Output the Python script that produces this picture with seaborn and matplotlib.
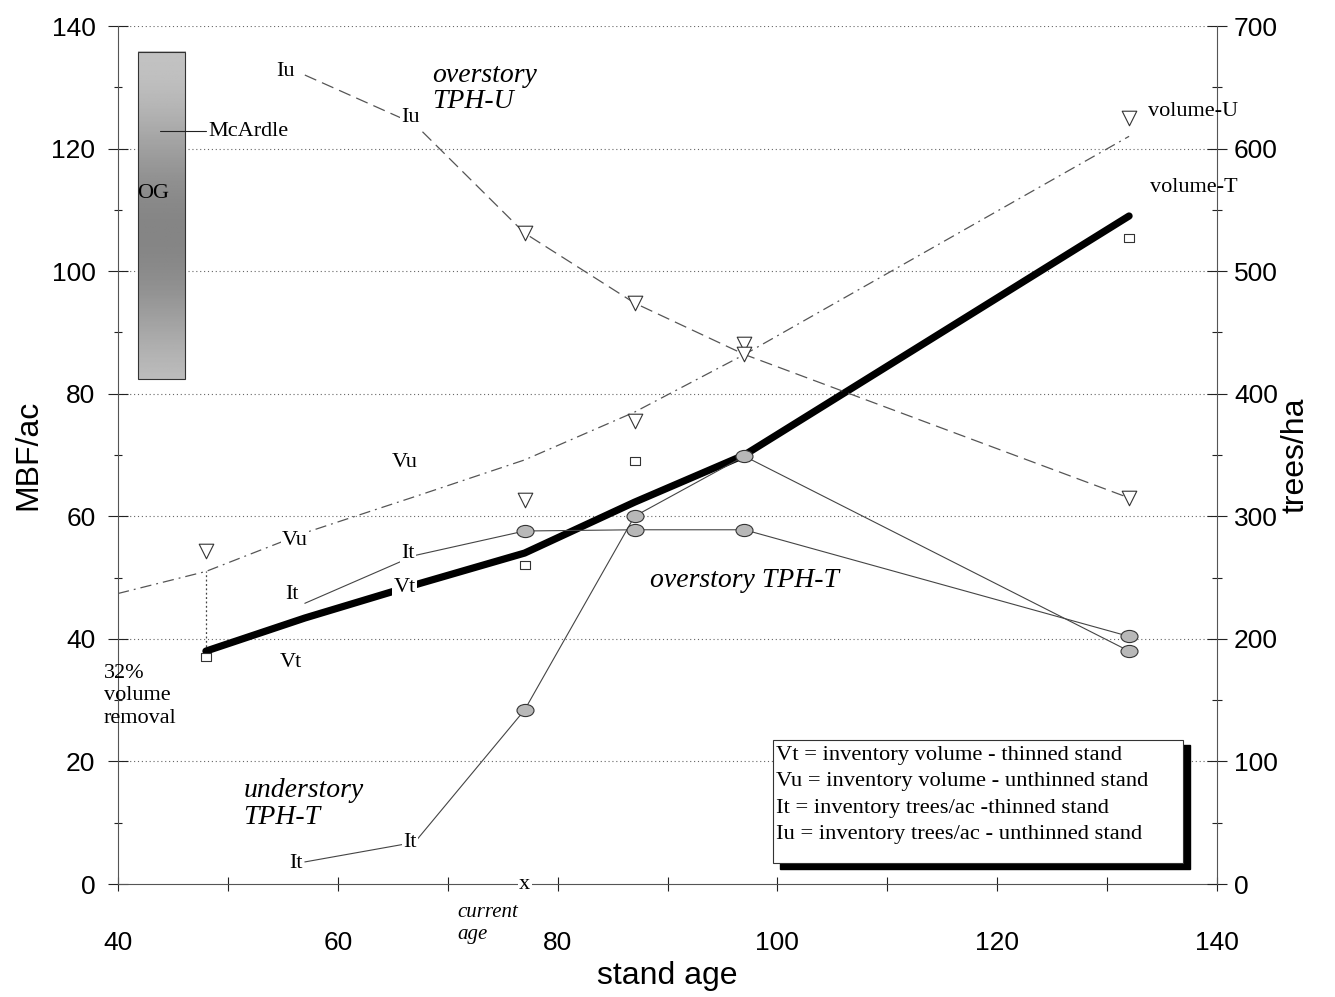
import numpy as np
import matplotlib
matplotlib.use("Agg")
import matplotlib.pyplot as plt
import seaborn as sns
from matplotlib.path import Path
from matplotlib.patches import Rectangle

# ---- stand volume (MBF/ac) ----
vu_age = [40, 48, 57, 67, 77, 87, 97, 132]
vu_mbf = [47.4, 51.0, 57.3, 63.2, 69.2, 77.0, 86.4, 122.0]
vt_age = [48, 57, 67, 77, 87, 97, 132]
vt_mbf = [38.0, 43.4, 48.8, 54.0, 62.3, 70.0, 109.0]

# inventory plot volumes
vu_inv_age = [48, 77, 87, 97, 132]
vu_inv = [54.4, 62.7, 75.6, 88.1, 125.0]
vt_inv_age = [48, 77, 87, 132]
vt_inv = [37.1, 52.1, 69.0, 105.4]

# ---- trees per hectare ----
tph_age = [57, 67, 77, 87, 97, 132]
iu_tph = [660, 620, 531, 474, 432, 315]
it_over_tph = [229, 268, 288, 289, 289, 202]
it_under_tph = [18, 34, 142, 300, 349, 190]
inv_age = [77, 87, 97, 132]

# reference values
og_range = (82.4, 135.8)
og_age = (41.8, 46.1)
mcardle = 122.8
removal_age = 48
current_age = 77

x_ticks = [40, 60, 80, 100, 120, 140]
left_ticks = [0, 20, 40, 60, 80, 100, 120, 140]
right_ticks = [0, 100, 200, 300, 400, 500, 600, 700]
legend_lines = [
    "Vt = inventory volume - thinned stand",
    "Vu = inventory volume - unthinned stand",
    "It = inventory trees/ac -thinned stand",
    "Iu = inventory trees/ac - unthinned stand",
]

sns.set_theme(style="white")
plt.rcParams["font.family"] = ["Liberation Sans", "DejaVu Sans"]
plt.rcParams["text.color"] = "black"
plt.rcParams["axes.labelcolor"] = "black"
plt.rcParams["xtick.color"] = "black"
plt.rcParams["ytick.color"] = "black"
SERIF = ["Liberation Serif", "DejaVu Serif"]

fig = plt.figure(figsize=(13.35, 9.97), dpi=100)
ax = fig.add_axes([118 / 1335, 113 / 997, 1099 / 1335, 858 / 997])
ax2 = ax.twinx()

# old-growth volume range bar
grad = np.linspace(0, 1, 200).reshape(-1, 1)
shade = 0.76 - 0.24 * np.sin(grad * np.pi * 0.9) ** 2
ax.imshow(shade, extent=[og_age[0], og_age[1], og_range[0], og_range[1]],
          cmap="gray", vmin=0, vmax=1, aspect="auto", origin="upper", zorder=1)
ax.add_patch(Rectangle((og_age[0], og_range[0]), og_age[1] - og_age[0],
                       og_range[1] - og_range[0], fill=False, ec="#333", lw=0.8, zorder=2))
ax.plot([og_age[0] + 2.0, og_age[1] + 1.9], [mcardle, mcardle], color="#222", lw=0.8, zorder=2)

# volume curves
sns.lineplot(x=vu_age, y=vu_mbf, ax=ax, color="#555", linewidth=0.9,
             linestyle=(0, (9, 4, 1.5, 4)), zorder=3)
sns.lineplot(x=vt_age, y=vt_mbf, ax=ax, color="black", linewidth=5.2,
             solid_capstyle="round", zorder=4)
ax.vlines(removal_age, vt_mbf[0], vu_mbf[1], color="#444", lw=0.9,
          linestyles=(0, (1.5, 2)), zorder=3)

# inventory volume points
sq = Path(np.array([[-1.3, -1], [1.3, -1], [1.3, 1], [-1.3, 1], [-1.3, -1]]),
          [Path.MOVETO, Path.LINETO, Path.LINETO, Path.LINETO, Path.CLOSEPOLY])
sns.scatterplot(x=vu_inv_age, y=vu_inv, ax=ax, marker="v", s=110,
                facecolor="white", edgecolor="#333", linewidth=0.8, zorder=5)
sns.scatterplot(x=vt_inv_age, y=vt_inv, ax=ax, marker=sq, s=60,
                facecolor="white", edgecolor="#333", linewidth=0.8, zorder=5)

# trees per hectare
sns.lineplot(x=tph_age, y=iu_tph, ax=ax2, color="#555", linewidth=0.9,
             linestyle=(0, (10, 5)), zorder=3)
sns.lineplot(x=tph_age, y=it_over_tph, ax=ax2, color="#444", linewidth=0.8, zorder=3)
sns.lineplot(x=tph_age, y=it_under_tph, ax=ax2, color="#444", linewidth=0.8, zorder=3)

circ = Path.unit_circle()
ell = Path(circ.vertices * np.array([1.4, 1.0]), circ.codes)
sns.scatterplot(x=inv_age, y=iu_tph[2:], ax=ax2, marker="v", s=110,
                facecolor="white", edgecolor="#333", linewidth=0.8, zorder=5)
for series in (it_over_tph, it_under_tph):
    sns.scatterplot(x=inv_age, y=series[2:], ax=ax2, marker=ell, s=150,
                    facecolor="#b8b8b8", edgecolor="#333", linewidth=0.8, zorder=5)

ax.set_xlim(40, 140)
ax.set_ylim(0, 140)
ax2.set_ylim(0, 700)

# axes styling
ax.grid(False)
ax2.grid(False)
for y in left_ticks[1:]:
    ax.axhline(y, color="#666", lw=0.8, linestyle=(0, (1, 2.5)), zorder=0.5)
for s in ("top", "right"):
    ax.spines[s].set_visible(False)
for s in ("top", "left", "bottom"):
    ax2.spines[s].set_visible(False)
for s in ("left", "bottom"):
    ax.spines[s].set_color("#555")
    ax.spines[s].set_linewidth(0.8)
ax2.spines["right"].set_color("#555")
ax2.spines["right"].set_linewidth(0.8)

ax.set_xticks(x_ticks)
ax.set_xticks([50, 70, 90, 110, 130], minor=True)
ax.set_yticks(left_ticks)
ax.set_yticks(list(range(10, 140, 20)), minor=True)
ax2.set_yticks(right_ticks)
ax2.set_yticks(list(range(50, 700, 100)), minor=True)

ax.tick_params(axis="x", which="both", direction="inout", length=10, width=0.8,
               color="#222", labelsize=19, pad=29, bottom=True, labelcolor="black")
ax.tick_params(axis="y", which="major", direction="inout", length=14.5, width=0.8,
               color="#222", labelsize=19, pad=9, left=True, labelcolor="black")
ax.tick_params(axis="y", which="minor", direction="inout", length=6, width=0.8,
               color="#222", left=True)
ax2.tick_params(axis="y", which="major", direction="inout", length=14.5, width=0.8,
                color="#222", labelsize=19, pad=5, right=True, labelcolor="black")
ax2.tick_params(axis="y", which="minor", direction="inout", length=7, width=0.8,
                color="#222", right=True)

ax.set_xlabel("stand age", fontsize=23, labelpad=4, color="black")
ax.set_ylabel("MBF/ac", fontsize=23, labelpad=6, color="black")
ax2.set_ylabel("trees/ha", fontsize=23, labelpad=2, color="black")


def note(x, y, s, size=16, mask=False, **kw):
    bbox = dict(facecolor="white", edgecolor="none", pad=1.0) if mask else None
    ax2.text(x, y, s, transform=ax.transData, family=SERIF, fontsize=size,
             color="black", zorder=8, bbox=bbox, clip_on=False, **kw)


note(55.2, 132.5, "Iu", ha="center", va="center")
note(66.6, 125.0, "Iu", ha="center", va="center", mask=True)
note(68.6, 129.8, "overstory\nTPH-U", size=20, style="italic", ha="left",
     va="center", linespacing=1.05)
note(48.2, mcardle, "McArdle", ha="left", va="center")
note(41.7, 112.7, "OG", ha="left", va="center")
note(66.1, 68.7, "Vu", ha="center", va="center")
note(56.1, 56.0, "Vu", ha="center", va="center", mask=True)
note(66.4, 54.0, "It", ha="center", va="center", mask=True)
note(66.1, 48.3, "Vt", ha="center", va="center", mask=True)
note(55.8, 47.3, "It", ha="center", va="center")
note(55.7, 36.1, "Vt", ha="center", va="center")
note(38.7, 35.9, "32%\nvolume\nremoval", ha="left", va="top", linespacing=1.25)
note(97.0, 49.6, "overstory TPH-T", size=20, style="italic", ha="center", va="center")
note(51.4, 13.1, "understory\nTPH-T", size=20, style="italic", ha="left",
     va="center", linespacing=1.1)
note(56.2, 3.4, "It", ha="center", va="center", mask=True)
note(66.6, 6.7, "It", ha="center", va="center", mask=True)
note(current_age, 0.0, "x", ha="center", va="center", mask=True)
note(70.9, -6.4, "current\nage", size=15, style="italic", ha="left", va="center",
     linespacing=1.2)
note(133.7, 126.1, "volume-U", ha="left", va="center")
note(133.9, 113.7, "volume-T", ha="left", va="center")

# legend box with drop shadow
bx0, bx1, by0, by1 = 99.6, 136.9, 3.4, 23.5
ax2.add_patch(Rectangle((bx0 + 0.6, by0 - 0.9), bx1 - bx0, by1 - by0, transform=ax.transData,
                        facecolor="black", edgecolor="black", zorder=7))
ax2.add_patch(Rectangle((bx0, by0), bx1 - bx0, by1 - by0, transform=ax.transData,
                        facecolor="white", edgecolor="#333", lw=0.8, zorder=7.5))
for i, line in enumerate(legend_lines):
    note(bx0 + 0.3, 21.0 - i * 4.33, line, size=16.2, ha="left", va="center")

fig.savefig("out.png", dpi=100)
